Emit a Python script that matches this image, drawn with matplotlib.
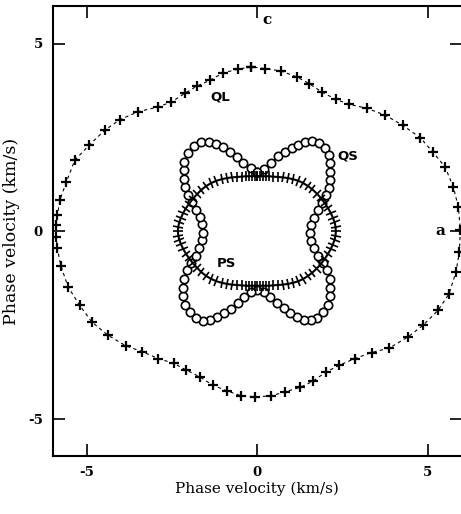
import matplotlib
matplotlib.use("Agg")
import matplotlib.pyplot as plt
import numpy as np
from matplotlib.markers import MarkerStyle
from matplotlib.transforms import Affine2D

# QL branch (km/s), counter-clockwise from the top
ql_x = [-0.19, -0.58, -1.00, -1.39, -1.78, -2.13, -2.52, -2.91, -3.50, -4.03,
        -4.47, -4.93, -5.35, -5.60, -5.79, -5.86, -5.90, -5.90, -5.87, -5.76,
        -5.55, -5.21, -4.86, -4.38, -3.86, -3.37, -2.91, -2.45, -2.08, -1.69,
        -1.31, -0.90, -0.49, -0.08, 0.39, 0.81, 1.25, 1.62, 2.01, 2.40,
        2.86, 3.35, 3.87, 4.42, 4.86, 5.30, 5.62, 5.82, 5.92, 5.95,
        5.89, 5.74, 5.50, 5.14, 4.77, 4.26, 3.74, 3.22, 2.69, 2.30,
        1.88, 1.52, 1.15, 0.68, 0.22, -0.19]
ql_y = [4.38, 4.31, 4.22, 4.02, 3.86, 3.67, 3.44, 3.31, 3.18, 2.97,
        2.69, 2.29, 1.89, 1.31, 0.82, 0.42, 0.15, -0.15, -0.45, -0.93,
        -1.49, -1.98, -2.42, -2.78, -3.06, -3.22, -3.40, -3.53, -3.71, -3.89,
        -4.11, -4.26, -4.39, -4.42, -4.40, -4.29, -4.17, -4.01, -3.76, -3.58,
        -3.40, -3.24, -3.12, -2.82, -2.51, -2.11, -1.67, -1.09, -0.56, 0.03,
        0.64, 1.18, 1.71, 2.11, 2.49, 2.82, 3.09, 3.27, 3.38, 3.51,
        3.71, 3.93, 4.11, 4.27, 4.33, 4.38]

# QS branch, clockwise from the top centre
qs_x = [0.00, 0.20, 0.40, 0.60, 0.80, 1.00, 1.20, 1.40, 1.60, 1.80,
        1.98, 2.09, 2.13, 2.13, 2.13, 2.10, 2.01, 1.89, 1.78, 1.67,
        1.58, 1.54, 1.58, 1.67, 1.79, 1.92, 2.05, 2.12, 2.13, 2.13,
        2.07, 1.93, 1.76, 1.57, 1.37, 1.17, 0.97, 0.78, 0.58, 0.38,
        0.19, 0.00, -0.19, -0.38, -0.58, -0.78, -0.98, -1.18, -1.38, -1.59,
        -1.80, -1.97, -2.11, -2.18, -2.18, -2.15, -2.07, -1.94, -1.81, -1.70,
        -1.62, -1.59, -1.62, -1.69, -1.79, -1.91, -2.03, -2.12, -2.14, -2.15,
        -2.14, -2.03, -1.85, -1.64, -1.43, -1.22, -1.01, -0.81, -0.61, -0.41,
        -0.20, 0.00]
qs_y = [1.58, 1.66, 1.82, 2.00, 2.12, 2.22, 2.29, 2.38, 2.41, 2.34,
        2.21, 2.03, 1.81, 1.58, 1.36, 1.15, 0.95, 0.75, 0.56, 0.36,
        0.16, -0.05, -0.26, -0.46, -0.66, -0.85, -1.05, -1.28, -1.51, -1.74,
        -1.97, -2.16, -2.31, -2.38, -2.36, -2.29, -2.18, -2.06, -1.91, -1.75,
        -1.63, -1.58, -1.63, -1.76, -1.91, -2.07, -2.18, -2.29, -2.36, -2.39,
        -2.32, -2.17, -1.97, -1.74, -1.51, -1.28, -1.05, -0.86, -0.67, -0.46,
        -0.25, -0.04, 0.18, 0.38, 0.57, 0.77, 0.97, 1.18, 1.40, 1.62,
        1.85, 2.07, 2.26, 2.37, 2.38, 2.32, 2.23, 2.11, 1.97, 1.82,
        1.67, 1.58]

# PS branch, clockwise from the top centre
ps_x = [0.00, 0.07, 0.15, 0.24, 0.34, 0.46, 0.60, 0.75, 0.90, 1.05,
        1.20, 1.34, 1.48, 1.61, 1.74, 1.86, 1.97, 2.07, 2.15, 2.21,
        2.26, 2.29, 2.30, 2.29, 2.26, 2.21, 2.15, 2.07, 1.97, 1.86,
        1.74, 1.61, 1.48, 1.34, 1.20, 1.05, 0.90, 0.75, 0.60, 0.46,
        0.34, 0.24, 0.15, 0.07, 0.00, -0.07, -0.15, -0.24, -0.34, -0.46,
        -0.60, -0.75, -0.90, -1.05, -1.20, -1.35, -1.50, -1.64, -1.77, -1.89,
        -2.00, -2.10, -2.18, -2.24, -2.29, -2.32, -2.33, -2.32, -2.29, -2.24,
        -2.18, -2.10, -2.00, -1.89, -1.77, -1.64, -1.50, -1.35, -1.20, -1.05,
        -0.90, -0.75, -0.60, -0.46, -0.34, -0.24, -0.15, -0.07, 0.00]
ps_y = [1.46, 1.46, 1.46, 1.46, 1.46, 1.45, 1.44, 1.43, 1.41, 1.38,
        1.34, 1.28, 1.20, 1.11, 1.00, 0.88, 0.75, 0.61, 0.48, 0.36,
        0.24, 0.12, 0.00, -0.12, -0.24, -0.36, -0.48, -0.61, -0.75, -0.88,
        -1.00, -1.11, -1.20, -1.28, -1.34, -1.38, -1.41, -1.43, -1.44, -1.45,
        -1.46, -1.46, -1.46, -1.46, -1.46, -1.46, -1.46, -1.46, -1.46, -1.45,
        -1.44, -1.43, -1.41, -1.38, -1.34, -1.28, -1.20, -1.10, -0.98, -0.86,
        -0.73, -0.60, -0.47, -0.35, -0.23, -0.12, 0.00, 0.12, 0.23, 0.35,
        0.47, 0.60, 0.73, 0.86, 0.98, 1.10, 1.20, 1.28, 1.34, 1.38,
        1.41, 1.43, 1.44, 1.45, 1.46, 1.46, 1.46, 1.46, 1.46]

serif = "DejaVu Serif"

fig = plt.figure(figsize=(4.61, 5.14), dpi=100)
ax = fig.add_axes([52.7 / 461, 58 / 514, 409.4 / 461, 450 / 514])
ax.set_xlim(-6, 6)
ax.set_ylim(-6, 6)

# QL: upright crosses joined by a thin dashed line
ax.plot(ql_x, ql_y, color="black", lw=0.8, ls=(0, (3, 3)))
ax.plot(ql_x, ql_y, ls="none", marker="+", ms=7.5, mew=1.6, color="black")

# QS: open circles on a solid line
ax.plot(qs_x, qs_y, color="black", lw=1.0, marker="o", ms=6,
        mfc="white", mec="black", mew=1.2)

# PS: solid line with ticks set across the curve
ax.plot(ps_x, ps_y, color="black", lw=1.5)
fig.canvas.draw()
pts = ax.transData.transform(np.column_stack([ps_x, ps_y]))
n = len(pts)
for i in range(n):
    p0 = pts[max(i - 1, 0)]
    p1 = pts[min(i + 1, n - 1)]
    ang = np.degrees(np.arctan2(p1[1] - p0[1], p1[0] - p0[0]))
    m = MarkerStyle("|", transform=Affine2D().rotate_deg(ang))
    ax.plot(ps_x[i], ps_y[i], ls="none", marker=m, ms=7.5, mew=1.2,
            color="black")

lab = dict(fontsize=9.5, fontweight="bold", color="black")
ax.text(-1.1, 3.58, "QL", ha="center", va="center", **lab)
ax.text(2.66, 2.0, "QS", ha="center", va="center", **lab)
ax.text(-0.9, -0.87, "PS", ha="center", va="center", **lab)
ax.text(0.27, 5.62, "c", ha="center", va="center", family=serif,
        fontsize=11, fontweight="bold")
ax.text(5.35, 0.0, "a", ha="center", va="center", family=serif,
        fontsize=11, fontweight="bold")

ax.set_xticks([-5, 0, 5])
ax.set_yticks([-5, 0, 5])
ax.set_xticklabels(["-5", "0", "5"], family=serif, fontweight="bold",
                   fontsize=9.5)
ax.set_yticklabels(["-5", "0", "5"], family=serif, fontweight="bold",
                   fontsize=9.5)
ax.tick_params(direction="in", length=8.5, width=1.2, top=True, right=True,
               pad=7)
for s in ax.spines.values():
    s.set_linewidth(1.5)

ax.set_xlabel("Phase velocity (km/s)", family=serif, fontsize=11, labelpad=2)
ax.set_ylabel("Phase velocity (km/s)", family=serif, fontsize=12.5,
              labelpad=6)

fig.savefig("out.png", dpi=100)
